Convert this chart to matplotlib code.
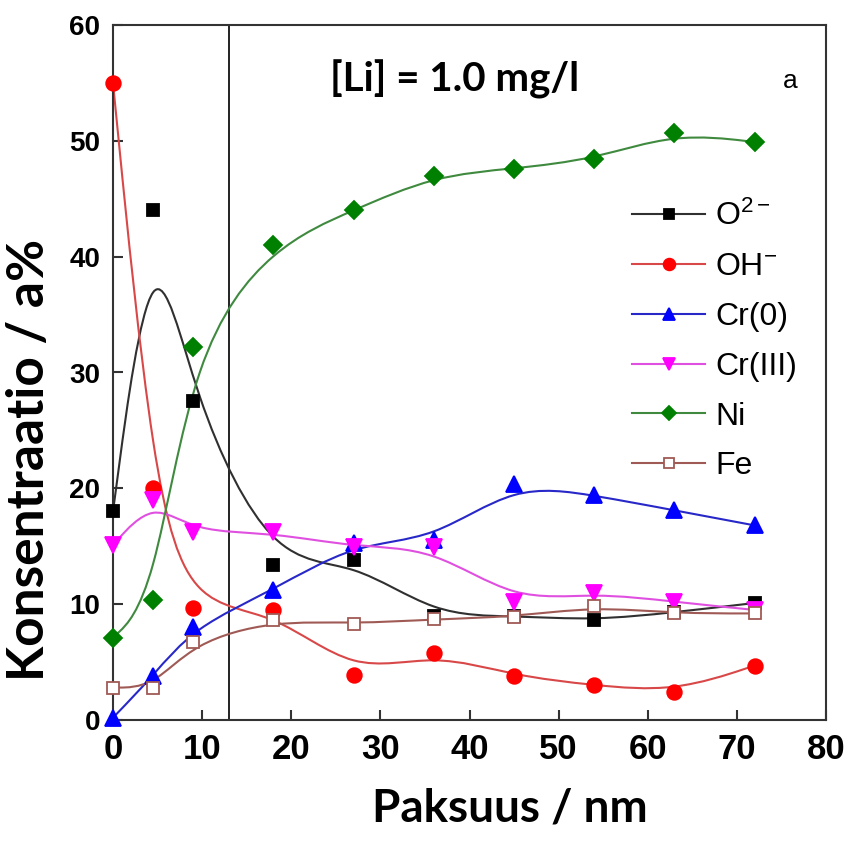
import numpy as np
import matplotlib
matplotlib.use("Agg")
import matplotlib.pyplot as plt
from matplotlib.path import Path
from matplotlib.patches import PathPatch
from matplotlib.lines import Line2D

plt.rcParams['mathtext.fontset'] = 'custom'
plt.rcParams['mathtext.rm'] = 'Liberation Sans'
plt.rcParams['mathtext.it'] = 'Liberation Sans'

# Data
thickness = [0, 4.5, 9, 18, 27, 36, 45, 54, 63, 72]
o2 = [18.0, 44.0, 27.5, 13.4, 13.8, 9.0, 9.0, 8.6, 9.3, 10.1]
oh = [55.0, 20.0, 9.7, 9.5, 3.9, 5.8, 3.8, 3.0, 2.4, 4.7]
cr0 = [0.2, 3.8, 8.0, 11.2, 15.3, 15.5, 20.4, 19.4, 18.1, 16.8]
cr3 = [15.1, 19.0, 16.2, 16.2, 14.9, 14.9, 10.2, 11.0, 10.2, 9.5]
ni = [7.1, 10.4, 32.2, 41.0, 44.0, 47.0, 47.6, 48.4, 50.7, 49.9]
fe = [2.8, 2.8, 6.7, 8.6, 8.3, 8.7, 8.9, 9.8, 9.2, 9.2]
labels = [r'O$^{2-}$', r'OH$^{-}$', 'Cr(0)', 'Cr(III)', 'Ni', 'Fe']
boundary = 13

series = [o2, oh, cr0, cr3, ni, fe]
line_colors = ['#303030', '#d84848', '#2828c8', '#e050e0', '#3f8a3f', '#a05a55']
marker_colors = ['#000000', '#ff0000', '#0000ff', '#ff00ff', '#008000', '#ffffff']
edge_colors = ['#000000', '#ff0000', '#0000ff', '#ff00ff', '#008000', '#a05a55']
markers = ['s', 'o', '^', 'v', 'D', 's']
msizes = [9, 10.5, 11, 11, 9, 9]


def bspline_path(xs, ys):
    # smooth B-spline through the data points, as drawn in the original
    P = np.column_stack([xs, ys]).astype(float)
    Q = np.vstack([P[:1], P[:1], P, P[-1:], P[-1:]])
    verts = [Q[0]]
    codes = [Path.MOVETO]
    for i in range(len(Q) - 3):
        a, b, c, d = Q[i:i + 4]
        verts += [(2 * b + c) / 3, (b + 2 * c) / 3, (b + 4 * c + d) / 6]
        codes += [Path.CURVE4] * 3
    return Path(verts, codes)


fig = plt.figure(figsize=(8.5, 8.46), dpi=100)
ax = fig.add_axes([113 / 850, 126 / 846, 713 / 850, 695 / 846])

handles = []
for ys, lc, mc, ec, mk, ms, lab in zip(series, line_colors, marker_colors,
                                       edge_colors, markers, msizes, labels):
    ax.add_patch(PathPatch(bspline_path(thickness, ys), facecolor='none',
                           edgecolor=lc, lw=1.5, zorder=2))
    ax.plot(thickness, ys, ls='none', marker=mk, ms=ms, mfc=mc, mec=ec,
            mew=1.3, zorder=3, clip_on=False)
    handles.append(Line2D([], [], color=lc, lw=1.5, marker=mk, ms=ms * 0.8,
                          mfc=mc, mec=ec, mew=1.3, label=lab))

ax.axvline(boundary, color='#222222', lw=1.4, zorder=1)

ax.set_xlim(0, 80)
ax.set_ylim(0, 60)
ax.set_xticks(range(0, 81, 10))
ax.set_yticks(range(0, 61, 10))
for s in ax.spines.values():
    s.set_linewidth(1.5)
    s.set_color('#333333')
ax.tick_params(direction='in', length=7, width=1.5, top=False, right=False,
               color='#333333')
ax.tick_params(axis='x', pad=9)
ax.tick_params(axis='y', pad=9)
for t in ax.get_xticklabels():
    t.set_fontfamily('Liberation Sans')
    t.set_fontweight('bold')
    t.set_fontsize(25)
for t in ax.get_yticklabels():
    t.set_fontfamily('Liberation Sans')
    t.set_fontweight('bold')
    t.set_fontsize(20)

ax.set_xlabel('Paksuus / nm', fontsize=33, fontweight='bold', family='Lato')
ax.xaxis.set_label_coords(0.557, -0.097)
ax.set_ylabel('Konsentraatio / a%', fontsize=37, fontweight='bold',
              family='Lato')
ax.yaxis.set_label_coords(-0.084, 0.374)

ax.text(24.3, 55.3, '[Li] = 1.0 mg/l', fontsize=29, fontweight='bold',
        family='Lato', va='center', ha='left')
ax.text(76.0, 55.2, 'a', fontsize=19, family='Liberation Sans',
        va='center', ha='center')

leg = ax.legend(handles=handles, loc='upper left',
                bbox_to_anchor=(0.71, 0.765), frameon=False,
                prop={'family': 'Liberation Sans', 'size': 23},
                handlelength=2.3, handletextpad=0.3, labelspacing=0.62,
                borderaxespad=0)

fig.savefig('out.png', dpi=100)
